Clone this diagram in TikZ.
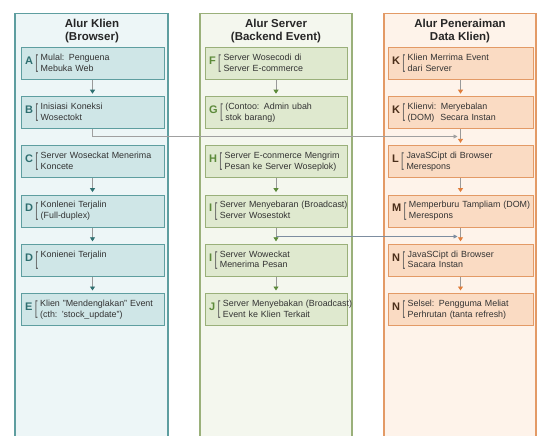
\documentclass[tikz,border=0pt]{standalone}
\usepackage{fontspec}
\setmainfont{Liberation Sans}
\usepackage{graphicx}
\usetikzlibrary{arrows.meta,positioning,calc}
\definecolor{cKlienLane}{HTML}{EDF6F7}
\definecolor{cKlienLine}{HTML}{5E9EA0}
\definecolor{cKlienBox}{HTML}{CFE6E7}
\definecolor{cKlienDark}{HTML}{2F6F70}
\definecolor{cServerLane}{HTML}{F4F7EE}
\definecolor{cServerLine}{HTML}{9AB07A}
\definecolor{cServerBox}{HTML}{DFE9CF}
\definecolor{cServerDark}{HTML}{5C8A3A}
\definecolor{cDataLane}{HTML}{FEF3EA}
\definecolor{cDataLine}{HTML}{E39A66}
\definecolor{cDataBox}{HTML}{FADBC3}
\definecolor{cDataDark}{HTML}{4A2E1A}
\definecolor{cDataArr}{HTML}{E07E3C}
\definecolor{cTxt}{HTML}{333333}
\definecolor{cLink}{HTML}{A0A0A0}
\definecolor{cLinkB}{HTML}{7D8DA0}

% letter, bracket and two text lines of one step
\newcommand{\steplbl}[3]{\mbox{%
  \hspace{1pt}\raisebox{1.5pt}{\color{#1}\bfseries\fontsize{11}{13}\selectfont #2}\hspace{2.5pt}%
  $\vcenter{\hbox{\scalebox{1}[1.9]{\color{cTxt!80}\fontsize{10}{11}\selectfont[}}}$\hspace{2.5pt}%
  $\vcenter{\hbox{\begin{tabular}{@{}l@{}}#3\end{tabular}}}$}}

\begin{document}
\begin{tikzpicture}[
    x=1pt, y=-1pt,
    font=\fontsize{8.9}{10.8}\selectfont,
    text=cTxt,
    node distance=16.2pt,
    lane/.style={draw=#1, line width=1.4pt, anchor=north, minimum width=152pt, minimum height=440pt, inner sep=0pt},
    lanetitle/.style={font=\fontsize{11.5}{13.5}\selectfont\bfseries, align=center, text=black!85},
    box/.style={draw=#1, line width=1pt, minimum height=32pt, inner xsep=3pt, inner ysep=2pt, align=left, anchor=north},
    kbox/.style={box=cKlienLine, fill=cKlienBox, text width=137pt},
    sbox/.style={box=cServerLine, fill=cServerBox, text width=136pt},
    dbox/.style={box=cDataLine, fill=cDataBox, text width=139pt},
    arr/.style={draw=black!40, line width=0.8pt, shorten >=2.5pt, -{Triangle[length=4pt, width=5pt, color=#1]}},
    link/.style={draw=#1, line width=0.8pt, -{Triangle[length=4pt, width=4pt]}}
]
\useasboundingbox (0,0) rectangle (538,436);
\clip (0,0) rectangle (538,436);

% swimlanes
\node[lane=cKlienLine, fill=cKlienLane, minimum width=153pt] (laneK) at (91.5,13) {};
\node[lane=cServerLine, fill=cServerLane] (laneS) at (276,13) {};
\node[lane=cDataLine, fill=cDataLane] (laneD) at (460,13) {};

\node[lanetitle] (titleK) at (92,31) {Alur Klien\\(Browser)};
\node[lanetitle] (titleS) at (276,31) {Alur Server\\(Backend Event)};
\node[lanetitle] (titleD) at (460,31) {Alur Peneraiman\\Data Klien)};

% client column
\node[kbox] (a) at (92.5,47) {\steplbl{cKlienDark}{A}{Mulal: Penguena\\Mebuka Web}};
\node[kbox, below=of a] (b) {\steplbl{cKlienDark}{B}{Inisiasi Koneksi\\Wosectokt}};
\node[kbox, below=of b] (c) {\steplbl{cKlienDark}{C}{Server Woseckat Menerima\\Koncete}};
\node[kbox, below=of c] (d1) {\steplbl{cKlienDark}{D}{Konlenei Terjalin\\(Full-duplex)}};
\node[kbox, below=of d1] (d2) {\steplbl{cKlienDark}{D}{Konienei Terjalin\\\mbox{}}};
\node[kbox, below=of d2] (e) {\steplbl{cKlienDark}{E}{Klien "Mendenglakan" Event\\(cth: 'stock\_update")}};

% server column
\node[sbox] (f) at (276,47) {\steplbl{cServerDark}{F}{Server Wosecodi di\\Server E-commerce}};
\node[sbox, below=of f] (g) {\steplbl{cServerDark}{G}{(Contoo: Admin ubah\\stok barang)}};
\node[sbox, below=of g] (h) {\steplbl{cServerDark}{H}{Server E-conmerce Mengrim\\Pesan ke Server Woseplok)}};
\node[sbox, below=of h] (i1) {\steplbl{cServerDark}{I}{Server Menyebaran (Broadcast)\\Server Wosestokt}};
\node[sbox, below=of i1] (i2) {\steplbl{cServerDark}{I}{Server Woweckat\\Menerima Pesan}};
\node[sbox, below=of i2] (j) {\steplbl{cServerDark}{J}{Server Menyebakan (Broadcast)\\Event ke Klien Terkait}};

% receiving column
\node[dbox] (k1) at (460.5,47) {\steplbl{cDataDark}{K}{Klien Merrima Event\\dari Server}};
\node[dbox, below=of k1] (k2) {\steplbl{cDataDark}{K}{Klienvi: Meryebalan\\(DOM)\ \ Secara Instan}};
\node[dbox, below=of k2] (l) {\steplbl{cDataDark}{L}{JavaSCipt di Browser\\Merespons}};
\node[dbox, below=of l] (m) {\steplbl{cDataDark}{M}{Memperburu Tampliam (DOM)\\Merespons}};
\node[dbox, below=of m] (n1) {\steplbl{cDataDark}{N}{JavaSCipt di Browser\\Sacara Instan}};
\node[dbox, below=of n1] (n2) {\steplbl{cDataDark}{N}{Selsel: Pengguma Meliat\\Perhrutan (tanta refresh)}};

% step arrows
\draw[arr=cKlienDark] (a) -- (b);
\draw[arr=cKlienDark] (c) -- (d1);
\draw[arr=cKlienDark] (d1) -- (d2);
\draw[arr=cKlienDark] (d2) -- (e);
\draw[arr=cServerDark] (f) -- (g);
\draw[arr=cServerDark] (h) -- (i1);
\draw[arr=cServerDark] (i1) -- (i2);
\draw[arr=cServerDark] (i2) -- (j);
\draw[arr=cDataArr] (k1) -- (k2);
\draw[arr=cDataArr] (k2) -- (l);
\draw[arr=cDataArr] (l) -- (m);
\draw[arr=cDataArr] (m) -- (n1);
\draw[arr=cDataArr] (n1) -- (n2);

% links across the lanes
\coordinate (linkA) at ($(k2.south)!0.45!(l.north) + (-3,0)$);
\coordinate (linkB0) at ($(i1.south)!0.55!(i2.north)$);
\coordinate (linkB) at ($(m.south)!0.45!(n1.north) + (-3,0)$);
\draw[link=cLink] (b.south) |- (linkA);
\draw[link=cLinkB] (linkB0) -- (linkB0 -| linkB);
\end{tikzpicture}
\end{document}
